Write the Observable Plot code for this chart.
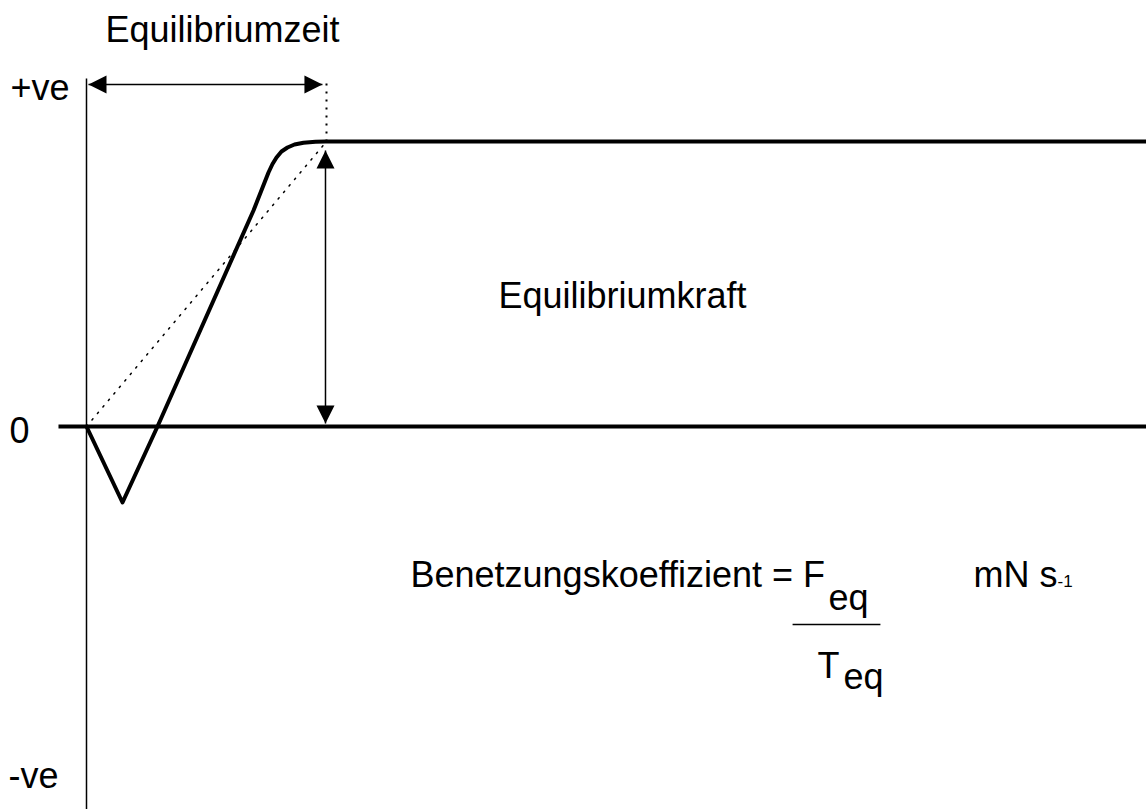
<!DOCTYPE html>
<html>
<head>
<meta charset="utf-8">
<script src="https://cdn.jsdelivr.net/npm/d3@7"></script>
<script src="https://cdn.jsdelivr.net/npm/@observablehq/plot@0.6"></script>
<style>
  html, body { margin: 0; padding: 0; background: #fff; }
  #chart svg { display: block; }
</style>
</head>
<body>
<div id="chart"></div>
<script>
// Wetting-balance curve (time t in units of T_eq, force F in units of F_eq)
const curveT = [0, 0.15, 0.2958, 0.6958, 0.7583, 0.775, 0.7917, 0.8125, 0.8375, 0.8667, 0.9042, 0.9542, 0.9958, 4.4167];
const curveF = [0, -0.2667, 0, 0.7579, 0.8912, 0.9211, 0.9439, 0.9649, 0.9789, 0.9895, 0.9958, 0.9989, 1, 1];

const Teq = 1;      // equilibrium time
const Feq = 1;      // equilibrium force

// axis extents
const xDomain = [-0.35833, 4.41667];
const yDomain = [-1.34386, 1.49474];
const zeroLineStart = -0.1167;
const vAxisTop = 1.221;

// annotations
const timeArrowF = 1.2;
const timeArrowT = [0.0083, 0.983];
const forceArrowT = 0.9958;
const forceArrowF = [0.0105, 0.968];
const dottedTopF = 1.2035;
const fracLineT = [2.942, 3.308];
const fracLineF = -0.6947;

const labelText = ["Equilibriumzeit", "+ve", "0", "-ve", "Equilibriumkraft",
  "Benetzungskoeffizient = F", "eq", "mN s", "-1", "T", "eq"];
const labelT = [0.0792, -0.3167, -0.3208, -0.325, 1.7167, 1.3500, 3.0917, 3.6958, 4.0458, 3.0458, 3.1542];
const labelF = [1.3474, 1.1439, -0.0596, -1.2667, 0.4175, -0.5649, -0.6456, -0.5649, -0.5649, -0.8842, -0.9193];
const labelSize = [36, 36, 36, 36, 36, 36, 36, 36, 17, 36, 36];

const labels = labelText.map((text, i) => ({text, t: labelT[i], f: labelF[i], size: labelSize[i]}));
const curve = curveT.map((t, i) => ({t, f: curveF[i]}));

// filled arrowhead, tip at origin, pointing up
const head = {
  draw(ctx) {
    ctx.moveTo(0, 0);
    ctx.lineTo(-9, 18);
    ctx.lineTo(9, 18);
    ctx.closePath();
  }
};
const heads = [
  {t: timeArrowT[0], f: timeArrowF, a: -90},
  {t: timeArrowT[1], f: timeArrowF, a: 90},
  {t: forceArrowT, f: forceArrowF[1], a: 0},
  {t: forceArrowT, f: forceArrowF[0], a: 180}
];

const font = "'Liberation Sans', Arial, Helvetica, sans-serif";

const chart = Plot.plot({
  width: 1146,
  height: 809,
  margin: 0,
  x: {domain: xDomain, axis: null},
  y: {domain: yDomain, axis: null},
  style: {fontFamily: font, background: "#fff"},
  marks: [
    // vertical axis
    Plot.link([0], {x1: 0, x2: 0, y1: vAxisTop, y2: yDomain[0], stroke: "#000", strokeWidth: 1.5}),
    // zero line
    Plot.link([0], {x1: zeroLineStart, x2: xDomain[1], y1: 0, y2: 0, stroke: "#000", strokeWidth: 4}),
    // dotted diagonal (F_eq / T_eq)
    Plot.link([0], {x1: 0, y1: 0, x2: Teq, y2: Feq, stroke: "#000", strokeWidth: 1.5, strokeDasharray: "1.5,7", strokeLinecap: "round"}),
    // dotted vertical at T_eq
    Plot.link([0], {x1: Teq, x2: Teq, y1: Feq, y2: dottedTopF, stroke: "#000", strokeWidth: 2, strokeDasharray: "2,6"}),
    // force curve
    Plot.line(curve, {x: "t", y: "f", stroke: "#000", strokeWidth: 4, strokeLinejoin: "round"}),
    // arrows
    Plot.link([0], {x1: timeArrowT[0], x2: timeArrowT[1], y1: timeArrowF, y2: timeArrowF, stroke: "#000", strokeWidth: 1.5}),
    Plot.link([0], {x1: forceArrowT, x2: forceArrowT, y1: forceArrowF[0], y2: forceArrowF[1], stroke: "#000", strokeWidth: 1.5}),
    Plot.dot(heads, {x: "t", y: "f", rotate: "a", symbol: head, r: 5, fill: "#000", stroke: null}),
    // fraction line
    Plot.link([0], {x1: fracLineT[0], x2: fracLineT[1], y1: fracLineF, y2: fracLineF, stroke: "#000", strokeWidth: 1.5}),
    // labels
    Plot.text(labels, {x: "t", y: "f", text: "text", fontSize: "size", textAnchor: "start", lineAnchor: "bottom", fill: "#000"})
  ]
});
document.getElementById("chart").append(chart);
</script>
</body>
</html>
